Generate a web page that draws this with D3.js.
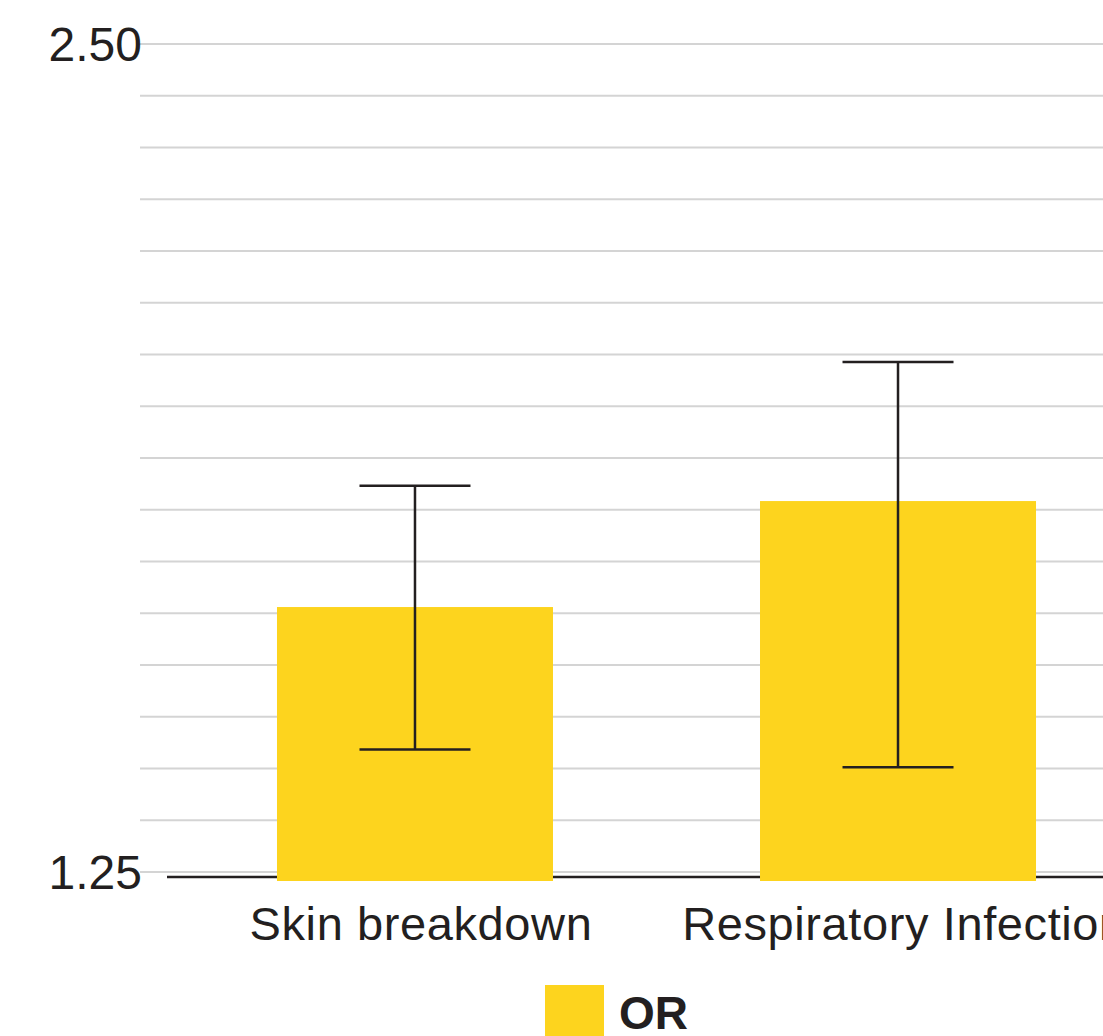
<!DOCTYPE html>
<html>
<head>
<meta charset="utf-8">
<script src="https://cdn.jsdelivr.net/npm/d3@7"></script>
<style>
  html, body { margin: 0; padding: 0; background: #fff; }
  svg { display: block; font-family: "Liberation Sans", Arial, sans-serif; }
</style>
</head>
<body>
<svg></svg>
<script>
// data
const categories = ["Skin breakdown", "Respiratory Infection"];
const orValues = [1.65, 1.81];
const ciLower = [1.435, 1.408];
const ciUpper = [1.833, 2.02];
const yDomain = [1.25, 2.50];
const yTickLabels = ["1.25", "2.50"];
const gridSteps = 16;
const seriesName = "OR";

const width = 1103, height = 1036;
const margin = { top: 44, bottom: 164, left: 140 };
const barColor = "#fdd41e", inkColor = "#231f20";

const svg = d3.select("svg").attr("width", width).attr("height", height);

const y = d3.scaleLinear()
    .domain(yDomain)
    .range([height - margin.bottom, margin.top]);

const x = d3.scaleBand()
    .domain(categories)
    .range([167, 1146])
    .paddingInner(0.4286)
    .paddingOuter(0.2277);

// gridlines
const gridVals = d3.range(gridSteps + 1).map(i => yDomain[0] + i * (yDomain[1] - yDomain[0]) / gridSteps);
svg.append("g")
    .selectAll("line")
    .data(gridVals)
    .enter()
    .append("line")
    .attr("x1", margin.left)
    .attr("x2", width)
    .attr("y1", d => y(d))
    .attr("y2", d => y(d))
    .attr("stroke", "#d4d4d4")
    .attr("stroke-width", 2);

// y labels
svg.append("g")
    .selectAll("text")
    .data(yTickLabels)
    .enter()
    .append("text")
    .attr("x", margin.left + 2)
    .attr("y", d => y(+d))
    .attr("dy", "0.35em")
    .attr("text-anchor", "end")
    .style("font-size", "48px")
    .style("fill", inkColor)
    .text(d => d);

// baseline
svg.append("line")
    .attr("x1", x.range()[0])
    .attr("x2", x.range()[1])
    .attr("y1", y(yDomain[0]) + 5)
    .attr("y2", y(yDomain[0]) + 5)
    .attr("stroke", inkColor)
    .attr("stroke-width", 2.5);

// bars
svg.append("g")
    .selectAll("rect")
    .data(categories)
    .enter()
    .append("rect")
    .attr("x", d => x(d))
    .attr("y", (d, i) => y(orValues[i]))
    .attr("width", x.bandwidth())
    .attr("height", (d, i) => y(yDomain[0]) + 9 - y(orValues[i]))
    .attr("fill", barColor);

// error bars
const capHalf = 55.5;
const err = svg.append("g").attr("stroke", inkColor).attr("stroke-width", 2.5);
categories.forEach((c, i) => {
    const cx = x(c) + x.bandwidth() / 2;
    err.append("line").attr("x1", cx).attr("x2", cx).attr("y1", y(ciLower[i])).attr("y2", y(ciUpper[i]));
    err.append("line").attr("x1", cx - capHalf).attr("x2", cx + capHalf).attr("y1", y(ciUpper[i])).attr("y2", y(ciUpper[i]));
    err.append("line").attr("x1", cx - capHalf).attr("x2", cx + capHalf).attr("y1", y(ciLower[i])).attr("y2", y(ciLower[i]));
});

// x labels
svg.append("g")
    .selectAll("text")
    .data(categories)
    .enter()
    .append("text")
    .attr("x", d => x(d) + x.bandwidth() / 2 + 6)
    .attr("y", 940)
    .attr("text-anchor", "middle")
    .style("font-size", "47px")
    .style("letter-spacing", "0.6px")
    .style("fill", inkColor)
    .text(d => d);

// legend
svg.append("rect")
    .attr("x", 545)
    .attr("y", 985)
    .attr("width", 59)
    .attr("height", 59)
    .attr("fill", barColor);
svg.append("text")
    .attr("x", 619)
    .attr("y", 1029)
    .style("font-size", "46px")
    .style("font-weight", "bold")
    .style("fill", inkColor)
    .text(seriesName);
</script>
</body>
</html>
